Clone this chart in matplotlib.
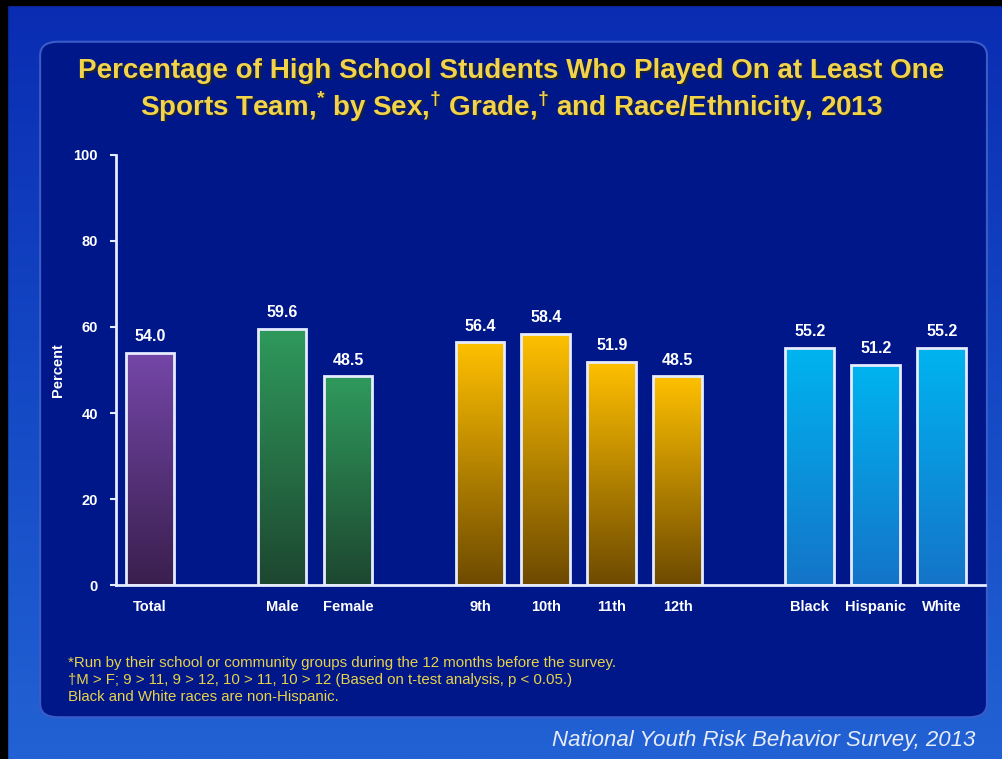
import matplotlib.pyplot as plt
import numpy as np
from matplotlib.colors import LinearSegmentedColormap
from matplotlib.patches import FancyBboxPatch, Rectangle

# Data
categories = ["Total", "Male", "Female", "9th", "10th", "11th", "12th", "Black", "Hispanic", "White"]
values = [54.0, 59.6, 48.5, 56.4, 58.4, 51.9, 48.5, 55.2, 51.2, 55.2]
groups = ["total", "sex", "sex", "grade", "grade", "grade", "grade", "race", "race", "race"]
positions = [0, 2, 3, 5, 6, 7, 8, 10, 11, 12]
y_ticks = [0, 20, 40, 60, 80, 100]

title = ("Percentage of High School Students Who Played On at Least One\n"
         r"Sports Team,$^{*}$ by Sex,$^{\dagger}$ Grade,$^{\dagger}$ and Race/Ethnicity, 2013")
footnotes = ["*Run by their school or community groups during the 12 months before the survey.",
             "\u2020M > F; 9 > 11, 9 > 12, 10 > 11, 10 > 12 (Based on t-test analysis, p < 0.05.)",
             "Black and White races are non-Hispanic."]
source = "National Youth Risk Behavior Survey, 2013"

# top / bottom colours of each group's gradient
gradients = {
    "total": ("#7446a8", "#3a1f4e"),
    "sex": ("#2f9a5c", "#1d4730"),
    "grade": ("#ffc000", "#6e4a00"),
    "race": ("#00b4f0", "#1474c8"),
}

plt.rcParams['font.family'] = ['Liberation Sans', 'DejaVu Sans']
plt.rcParams['mathtext.fontset'] = 'custom'
plt.rcParams['mathtext.rm'] = 'Liberation Sans:bold'

fig = plt.figure(figsize=(10.03, 7.59), dpi=100)

# background
bg = fig.add_axes([0, 0, 1, 1], zorder=-10)
bg.set_axis_off()
bg_cmap = LinearSegmentedColormap.from_list("bg", ["#0a2cb2", "#1448c4", "#2262d4"])
bg.imshow(np.linspace(0, 1, 256).reshape(-1, 1), aspect="auto", cmap=bg_cmap,
          extent=[0, 1, 0, 1], origin="upper")
bg.set_xlim(0, 1)
bg.set_ylim(0, 1)
panel = FancyBboxPatch((0.040, 0.055), 0.944, 0.890,
                       boxstyle="round,pad=0,rounding_size=0.018",
                       transform=bg.transAxes, facecolor="#00178a",
                       edgecolor="#3a5cc8", linewidth=1.5)
bg.add_patch(panel)
# black frame on left and top
bg.add_patch(Rectangle((0, 0), 0.007, 1, transform=bg.transAxes, color="black"))
bg.add_patch(Rectangle((0, 0.993), 1, 0.007, transform=bg.transAxes, color="black"))

# Chart
ax = fig.add_axes([0.1157, 0.229, 0.866, 0.567])
ax.patch.set_alpha(0)

bars = ax.bar(positions, values, width=0.74, facecolor="none",
              edgecolor="#e6ecff", linewidth=2, zorder=3)
for bar, g in zip(bars, groups):
    top, bot = gradients[g]
    cmap = LinearSegmentedColormap.from_list(g, [bot, top])
    x0, y0 = bar.get_x(), bar.get_y()
    w, h = bar.get_width(), bar.get_height()
    im = ax.imshow(np.linspace(0, 1, 128).reshape(-1, 1), cmap=cmap, aspect="auto",
                   extent=[x0, x0 + w, y0, y0 + h], origin="lower", zorder=2)
    im.set_clip_path(bar)

for p, v in zip(positions, values):
    ax.text(p, v + 2.0, f"{v:.1f}", ha="center", va="bottom", color="white",
            fontsize=11.5, fontweight="bold")

ax.set_xlim(-0.515, 12.65)
ax.set_ylim(0, 100)
ax.set_xticks(positions)
ax.set_xticklabels(categories)
ax.set_yticks(y_ticks)
ax.tick_params(axis="x", length=0, pad=11, labelcolor="white", labelsize=10.5)
ax.tick_params(axis="y", length=4, width=1.5, color="#e6ecff", pad=9,
               labelcolor="white", labelsize=10.5)
for lab in ax.get_xticklabels() + ax.get_yticklabels():
    lab.set_fontweight("bold")
for side in ["top", "right"]:
    ax.spines[side].set_visible(False)
for side in ["left", "bottom"]:
    ax.spines[side].set_color("#e6ecff")
    ax.spines[side].set_linewidth(2)
ax.set_ylabel("Percent", color="white", fontsize=10.5, fontweight="bold", labelpad=6)

# Title with slight shadow
fig.text(0.5115, 0.878, title, ha="center", va="center", color="#2a2a10",
         fontsize=20, fontweight="bold", linespacing=1.15, alpha=0.7)
fig.text(0.510, 0.880, title, ha="center", va="center", color="#f3d34a",
         fontsize=20, fontweight="bold", linespacing=1.15)

for i, line in enumerate(footnotes):
    fig.text(0.068, 0.127 - i * 0.0225, line, ha="left", va="center",
             color="#e8d24a", fontsize=10.8)

fig.text(0.972, 0.024, source, ha="right", va="center", color="#e8ecf8",
         fontsize=16, style="italic")

fig.savefig("out.png", dpi=100)
